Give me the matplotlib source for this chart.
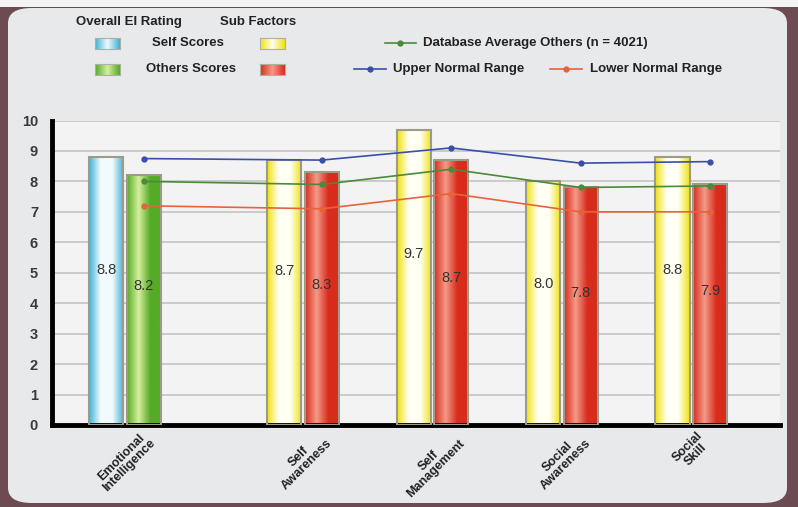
import numpy as np
import matplotlib
matplotlib.use("Agg")
import matplotlib.pyplot as plt
from matplotlib.patches import FancyBboxPatch, Rectangle
from matplotlib.lines import Line2D
from matplotlib.colors import LinearSegmentedColormap

plt.rcParams['font.family'] = ['Liberation Sans Narrow', 'Liberation Sans', 'DejaVu Sans']

categories = ["Emotional\nIntelligence", "Self\nAwareness", "Self\nManagement",
              "Social\nAwareness", "Social\nSkill"]
self_scores = [8.8, 8.7, 9.7, 8.0, 8.8]
others_scores = [8.2, 8.3, 8.7, 7.8, 7.9]
db_average = [8.0, 7.9, 8.4, 7.8, 7.85]
upper_range = [8.75, 8.7, 9.1, 8.6, 8.65]
lower_range = [7.2, 7.1, 7.6, 7.0, 7.0]

W, H = 798, 507
fig = plt.figure(figsize=(W / 100, H / 100), dpi=100)
fig.patch.set_facecolor('#6c4b52')

# light panel with rounded corners
panel = FancyBboxPatch((8 / W, 4 / H), 779 / W, 495 / H,
                       boxstyle="round,pad=0,rounding_size=0.03",
                       transform=fig.transFigure, facecolor='#e7e9eb',
                       edgecolor='none', zorder=-10)
fig.patches.append(panel)
fig.patches.append(Rectangle((0, 1 - 7 / H), 1, 7 / H, transform=fig.transFigure,
                             facecolor='#f4f4f4', edgecolor='none', zorder=-10))

ax = fig.add_axes([52 / W, 1 - 425 / H, 728 / W, 304.5 / H])
ax.set_zorder(1)
ax.set_facecolor('#f3f3f3')

# group positions: sub factors are set apart from the overall rating
x = np.arange(len(categories)) + np.where(np.arange(len(categories)) > 0, 0.375, 0.0)
off, bw = 0.145, 0.265

self_colors = ['#3fb2d6'] + ['#f2e10c'] * 4
others_colors = ['#55ab25'] + ['#d82c1c'] * 4
self_light = ['#f2fbfd'] + ['#fffff4'] * 4
others_light = ['#d6ee9e'] + ['#f59a88'] * 4


def gradient_bars(xs, vals, light, dark, stops):
    bars = ax.bar(xs, vals, width=bw, color='none', edgecolor='#9c9a88',
                  linewidth=1.5, zorder=3)
    grad = np.linspace(0, 1, 256).reshape(1, -1)
    for b, lc, dc in zip(bars, light, dark):
        cmap = LinearSegmentedColormap.from_list('g', [dc if s else lc for s in stops], N=256)
        im = ax.imshow(grad, cmap=cmap, aspect='auto', zorder=2,
                       extent=[b.get_x(), b.get_x() + b.get_width(), 0, b.get_height()])
        im.set_clip_path(b)
    return bars


gradient_bars(x - off, self_scores, self_light, self_colors, [1, 0, 0, 1])
gradient_bars(x + off, others_scores, others_light, others_colors, [1, 0, 1, 1])

for xi, v in zip(x - off, self_scores):
    ax.text(xi, v * 0.58, f"{v:.1f}", ha='center', va='center', fontsize=10.5,
            family=['Liberation Sans', 'DejaVu Sans'], color='#333333', zorder=5)
for xi, v in zip(x + off, others_scores):
    ax.text(xi, v * 0.555, f"{v:.1f}", ha='center', va='center', fontsize=10.5,
            family=['Liberation Sans', 'DejaVu Sans'], color='#333333', zorder=5)

ax.plot(x + off, upper_range, color='#3a4fa6', lw=1.2, marker='o', ms=3.5, zorder=4)
ax.plot(x + off, db_average, color='#4b8a3a', lw=1.2, marker='o', ms=3.5, zorder=4)
ax.plot(x + off, lower_range, color='#e8623c', lw=1.2, marker='o', ms=3.5, zorder=4)

ax.set_ylim(0, 10)
ax.set_xlim(-0.564, 5.06)
ax.set_yticks(range(11))
ax.yaxis.grid(True, color='#c4c4c4', lw=1.2)
ax.set_axisbelow(True)
for s in ['top', 'right']:
    ax.spines[s].set_visible(False)
ax.spines['left'].set_linewidth(3.5)
ax.spines['bottom'].set_linewidth(3.5)
ax.tick_params(axis='y', length=0, pad=10, labelsize=10.5, labelcolor='#3a3a3a')
for lab in ax.get_yticklabels():
    lab.set_fontweight('bold')
ax.tick_params(axis='x', length=0, pad=3)
ax.set_xticks(x)
ax.set_xticklabels(categories, rotation=45, ha='center', va='top', fontsize=9,
                   fontweight='bold', color='#222222', multialignment='center',
                   linespacing=0.9)


# legend drawn by hand
def ft(px, py, s, **kw):
    fig.text(px / W, 1 - py / H, s, fontsize=9.5, fontweight='bold', color='#222222',
             va='center', **kw)


def swatch(px, py, light, dark):
    cmap = LinearSegmentedColormap.from_list('s', [dark, light, dark])
    axs = fig.add_axes([px / W, 1 - (py + 6) / H, 25 / W, 11 / H])
    axs.set_zorder(1)
    axs.imshow(np.linspace(0, 1, 64).reshape(1, -1), cmap=cmap, aspect='auto')
    axs.set_xticks([])
    axs.set_yticks([])
    for sp in axs.spines.values():
        sp.set_color('#b0b0a0')


ft(76, 22, "Overall EI Rating")
ft(220, 22, "Sub Factors")
swatch(95, 43, '#f2fbfd', '#3fb2d6')
ft(152, 43, "Self Scores")
swatch(260, 43, '#fffff4', '#f2e10c')
swatch(95, 69, '#d6ee9e', '#55ab25')
ft(146, 69, "Others Scores")
swatch(260, 69, '#f59a88', '#d82c1c')


def legline(px0, px1, py, color):
    fig.lines.append(Line2D([px0 / W, px1 / W], [1 - py / H, 1 - py / H],
                            transform=fig.transFigure, color=color, lw=1.2))
    fig.lines.append(Line2D([(px0 + px1) / 2 / W], [1 - py / H], transform=fig.transFigure,
                            color=color, marker='o', ms=3.5))


legline(385, 416, 43, '#4b8a3a')
ft(423, 43, "Database Average Others (n = 4021)")
legline(354, 386, 69, '#3a4fa6')
ft(393, 69, "Upper Normal Range")
legline(550, 582, 69, '#e8623c')
ft(590, 69, "Lower Normal Range")

fig.savefig("out.png", dpi=100, facecolor=fig.get_facecolor())
